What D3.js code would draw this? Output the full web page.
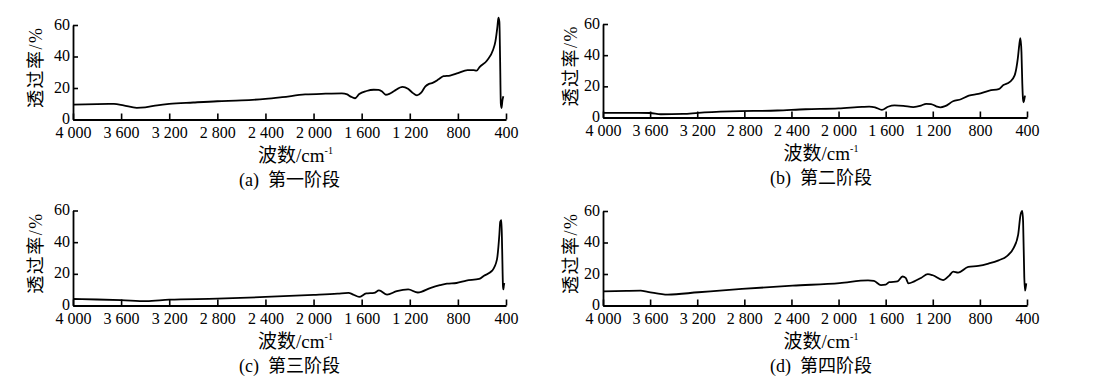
<!DOCTYPE html>
<html>
<head>
<meta charset="utf-8">
<script src="https://cdn.jsdelivr.net/npm/d3@7"></script>
<style>
  body { margin: 0; background: #fff; }
  svg { display: block; }
  .tick text, .lbl { font-family: "Liberation Serif", "Noto Sans CJK SC", serif; fill: #000; }
</style>
</head>
<body>
<div id="chart"></div>
<script>
// ! Data (wavenumber in cm-1, transmittance in %)
var wn_a = [4000, 3800, 3660, 3580, 3470, 3400, 3300, 3200, 3000, 2800, 2600, 2400, 2260, 2070, 1900, 1765, 1720, 1690, 1656, 1620, 1560, 1500, 1460, 1430, 1400, 1370, 1330, 1260, 1215, 1180, 1140, 1105, 1070, 1040, 1010, 960, 920, 865, 800, 720, 670, 645, 620, 556, 508, 488, 472, 463, 455, 449, 443, 437, 430, 422];
var tr_a = [9.5, 9.8, 9.9, 9.0, 7.4, 7.7, 9.0, 9.9, 10.8, 11.6, 12.1, 13.1, 14.2, 15.9, 16.4, 16.6, 15.9, 14.5, 13.5, 16.2, 18.1, 18.9, 18.8, 17.8, 15.7, 16.3, 18.1, 20.7, 19.5, 17.2, 15.3, 17.0, 21.0, 22.6, 23.3, 25.5, 27.5, 27.9, 29.4, 31.4, 31.3, 31.0, 33.3, 37.6, 44.1, 49.6, 58.5, 64.7, 62, 38, 10, 7.3, 12, 14.8];

var wn_b = [4000, 3700, 3600, 3510, 3320, 3190, 2920, 2520, 2280, 2000, 1800, 1740, 1690, 1632, 1580, 1525, 1450, 1365, 1300, 1256, 1215, 1170, 1135, 1095, 1028, 961, 894, 813, 720, 640, 600, 546, 505, 478, 465, 456, 447, 440, 434, 429, 422, 417];
var tr_b = [3.0, 3.0, 2.9, 2.1, 2.3, 3.0, 3.9, 4.5, 5.3, 5.8, 6.8, 7.0, 6.5, 4.9, 6.9, 7.8, 7.5, 6.7, 7.6, 8.8, 8.6, 7.2, 6.5, 7.3, 10.4, 11.7, 14.0, 15.1, 17.3, 18.2, 20.8, 22.8, 27.0, 37.9, 47, 50.9, 42, 22, 11.9, 9.8, 12, 14];

var wn_c = [4000, 3800, 3600, 3390, 3200, 2800, 2400, 2000, 1800, 1710, 1670, 1621, 1562, 1496, 1456, 1389, 1308, 1213, 1133, 1025, 950, 891, 811, 730, 623, 583, 515, 475, 455, 448, 438, 432, 425, 422, 418, 414];
var tr_c = [4.1, 3.8, 3.4, 2.8, 3.7, 4.3, 5.4, 6.7, 7.5, 8.0, 6.9, 5.4, 7.6, 8.0, 9.5, 6.9, 9.1, 10.2, 8.2, 11.2, 12.8, 13.8, 14.2, 15.7, 16.8, 18.8, 22.0, 29.1, 45, 52.9, 53.9, 35.6, 12, 10.2, 12.5, 14.2];

var wn_d = [4000, 3800, 3680, 3620, 3450, 3190, 2820, 2390, 1990, 1750, 1700, 1640, 1600, 1570, 1500, 1457, 1430, 1406, 1357, 1300, 1242, 1200, 1113, 1060, 1027, 985, 899, 813, 727, 641, 570, 513, 475, 455, 440, 433, 423, 417, 410, 406];
var tr_d = [9.0, 9.3, 9.4, 8.7, 6.9, 8.4, 10.5, 12.6, 14.2, 15.9, 15.6, 13, 13.2, 14.8, 15.3, 18.4, 17.5, 14, 15.3, 17.5, 19.9, 19.2, 16.1, 19, 21.5, 20.9, 24.5, 25.1, 26.6, 28.7, 31.4, 36.6, 45, 57.5, 60, 53, 18, 9.4, 12, 14];

var x_ticks = [4000, 3600, 3200, 2800, 2400, 2000, 1600, 1200, 800, 400];
var y_ticks = [0, 20, 40, 60];
var captions = ["(a)\u2002第一阶段", "(b)\u2002第二阶段", "(c)\u2002第三阶段", "(d)\u2002第四阶段"];
var y_title = "透过率/%";

// ! Layout of the four panels
var panels = [
  { wn: wn_a, tr: tr_a, left: 73,  right: 506,  bottom: 119.5, top: 25,    ytx: 37 },
  { wn: wn_b, tr: tr_b, left: 603, right: 1027, bottom: 117.5, top: 24,    ytx: 32 },
  { wn: wn_c, tr: tr_c, left: 73,  right: 506,  bottom: 305.5, top: 210.5, ytx: 37 },
  { wn: wn_d, tr: tr_d, left: 603, right: 1027, bottom: 305.5, top: 211,   ytx: 32 }
];

var svg = d3.select("#chart")
  .append("svg")
  .attr("width", 1097)
  .attr("height", 386);

svg.append("rect").attr("width", 1097).attr("height", 386).attr("fill", "#fff");

// "4 000" style labels
function fmt_wn(d) {
  var s = String(d);
  return s.length > 3 ? s.slice(0, s.length - 3) + " " + s.slice(-3) : s;
}

panels.forEach(function (p, i) {
  var x = d3.scaleLinear().domain([4000, 400]).range([p.left, p.right]);
  var y = d3.scaleLinear().domain([0, 60]).range([p.bottom, p.top]);
  var g = svg.append("g");

  // x axis, ticks pointing up into the plot
  var xAxis = g.append("g")
    .attr("transform", "translate(0," + p.bottom + ")")
    .call(d3.axisBottom(x).tickValues(x_ticks).tickSizeInner(-6).tickSizeOuter(0).tickPadding(7).tickFormat(fmt_wn));
  xAxis.select(".domain").attr("stroke-width", 1.8);
  xAxis.selectAll(".tick line").attr("stroke-width", 1.6);
  xAxis.selectAll(".tick text").style("font-size", "16px");

  // y axis, ticks pointing right
  var yAxis = g.append("g")
    .attr("transform", "translate(" + p.left + ",0)")
    .call(d3.axisLeft(y).tickValues(y_ticks).tickSizeInner(-5).tickSizeOuter(0).tickPadding(3));
  yAxis.select(".domain").attr("stroke-width", 1.8);
  yAxis.selectAll(".tick line").attr("stroke-width", 1.6);
  yAxis.selectAll(".tick text").style("font-size", "16px").attr("dy", "0.25em");

  // spectrum
  var pts = p.wn.map(function (w, k) { return [w, p.tr[k]]; });
  g.append("path")
    .datum(pts)
    .attr("fill", "none")
    .attr("stroke", "#000")
    .attr("stroke-width", 1.8)
    .attr("stroke-linejoin", "round")
    .attr("d", d3.line()
      .x(function (d) { return x(d[0]); })
      .y(function (d) { return y(d[1]); })
      .curve(d3.curveMonotoneX));

  // axis titles
  g.append("text")
    .attr("class", "lbl")
    .attr("transform", "translate(" + (p.left - p.ytx) + "," + ((p.top + p.bottom) / 2 - 5) + ") rotate(-90)")
    .attr("text-anchor", "middle")
    .attr("dy", "0.35em")
    .style("font-size", "18px")
    .style("letter-spacing", "1.5px")
    .text(y_title);

  var xt = g.append("text")
    .attr("class", "lbl")
    .attr("x", (p.left + p.right) / 2 + 6)
    .attr("y", p.bottom + 42)
    .attr("text-anchor", "middle")
    .style("font-size", "19px");
  xt.append("tspan").text("波数/cm");
  xt.append("tspan").attr("dy", -8).style("font-size", "10px").text("-1");

  g.append("text")
    .attr("class", "lbl")
    .attr("x", (p.left + p.right) / 2 + (i % 2 ? 6 : 0))
    .attr("y", p.bottom + 66)
    .attr("text-anchor", "middle")
    .style("font-size", "18px")
    .text(captions[i]);
});
</script>
</body>
</html>
